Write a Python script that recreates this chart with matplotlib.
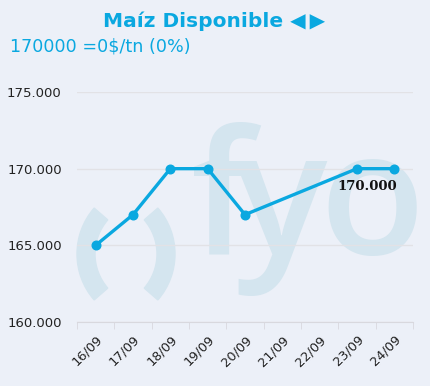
import matplotlib.pyplot as plt
import numpy as np
from matplotlib.patches import Wedge
from matplotlib.transforms import IdentityTransform
from matplotlib.ticker import FuncFormatter, FixedLocator

# Data
dates = ['16/09', '17/09', '18/09', '19/09', '20/09', '21/09', '22/09', '23/09', '24/09']
prices = [165000, 167000, 170000, 170000, 167000, np.nan, np.nan, 170000, 170000]
y_ticks = [160000, 165000, 170000, 175000]
title = 'Maíz Disponible \u25C0\u2009\u25B6'
subtitle = '170000 =0$/tn (0%)'
last_label = '170.000'

W, H = 431, 386
bg = '#ECF0F8'
blue = '#0AA8E0'
wm = '#D4E5EF'

fig = plt.figure(figsize=(W / 100, H / 100), dpi=100, facecolor=bg)
ax = fig.add_axes([77 / W, 64 / H, 336 / W, 230 / H], zorder=2)
ax.set_facecolor('none')

# Watermark logo "( ) fyo" (pixel positions measured from the top-left)
px = IdentityTransform()
fig.add_artist(Wedge((147, H - 254), 70, 139, 221, width=18, color=wm, transform=px, zorder=1))
fig.add_artist(Wedge((105, H - 254), 70, -41, 41, width=18, color=wm, transform=px, zorder=1))
for ch, cx in [('f', 222), ('y', 281), ('o', 372)]:
    fig.text(cx / W, 1 - 254 / H, ch, fontsize=124, family='Open Sans', fontweight='semibold',
             color=wm, ha='center', va='baseline', zorder=1)

x = np.arange(len(dates))
vals = np.array(prices, dtype=float)
ok = ~np.isnan(vals)
ax.plot(x[ok], vals[ok], color=blue, linewidth=2.4, marker='o', markersize=6.2, zorder=3)

ax.annotate(last_label, (x[ok][-2], vals[ok][-2]), xytext=(7.5, -13), textcoords='offset points',
            ha='center', va='center', fontsize=9.5, fontweight='bold', color='#111111',
            family='DejaVu Serif', zorder=4)

ax.set_xlim(-0.5, len(dates) - 0.5)
ax.set_ylim(y_ticks[0], y_ticks[-1])
ax.set_yticks(y_ticks)
ax.yaxis.set_major_formatter(FuncFormatter(lambda v, p: f'{v:,.0f}'.replace(',', '.')))
ax.grid(axis='y', color='#E2E2E6', linewidth=1)
ax.set_axisbelow(True)

ax.set_xticks(x)
ax.set_xticklabels(dates, rotation=45, ha='right', rotation_mode='anchor')
ax.xaxis.set_minor_locator(FixedLocator(np.arange(-0.5, len(dates), 1)))
ax.tick_params(axis='x', which='major', length=0, pad=8, labelsize=9.3, labelcolor='#222222')
ax.tick_params(axis='x', which='minor', length=5, color='#D8D8DE')
ax.tick_params(axis='y', length=0, pad=11, labelsize=9.5, labelcolor='#222222')

for s in ['top', 'right', 'left']:
    ax.spines[s].set_visible(False)
ax.spines['bottom'].set_color('#D8D8DE')

fig.text(214 / W, 1 - 21 / H, title, fontsize=14.5, fontweight='bold', color=blue, ha='center', va='center')
fig.text(10 / W, 1 - 47 / H, subtitle, fontsize=12.6, color=blue, ha='left', va='center')

fig.savefig('out.png', dpi=100, facecolor=bg)
